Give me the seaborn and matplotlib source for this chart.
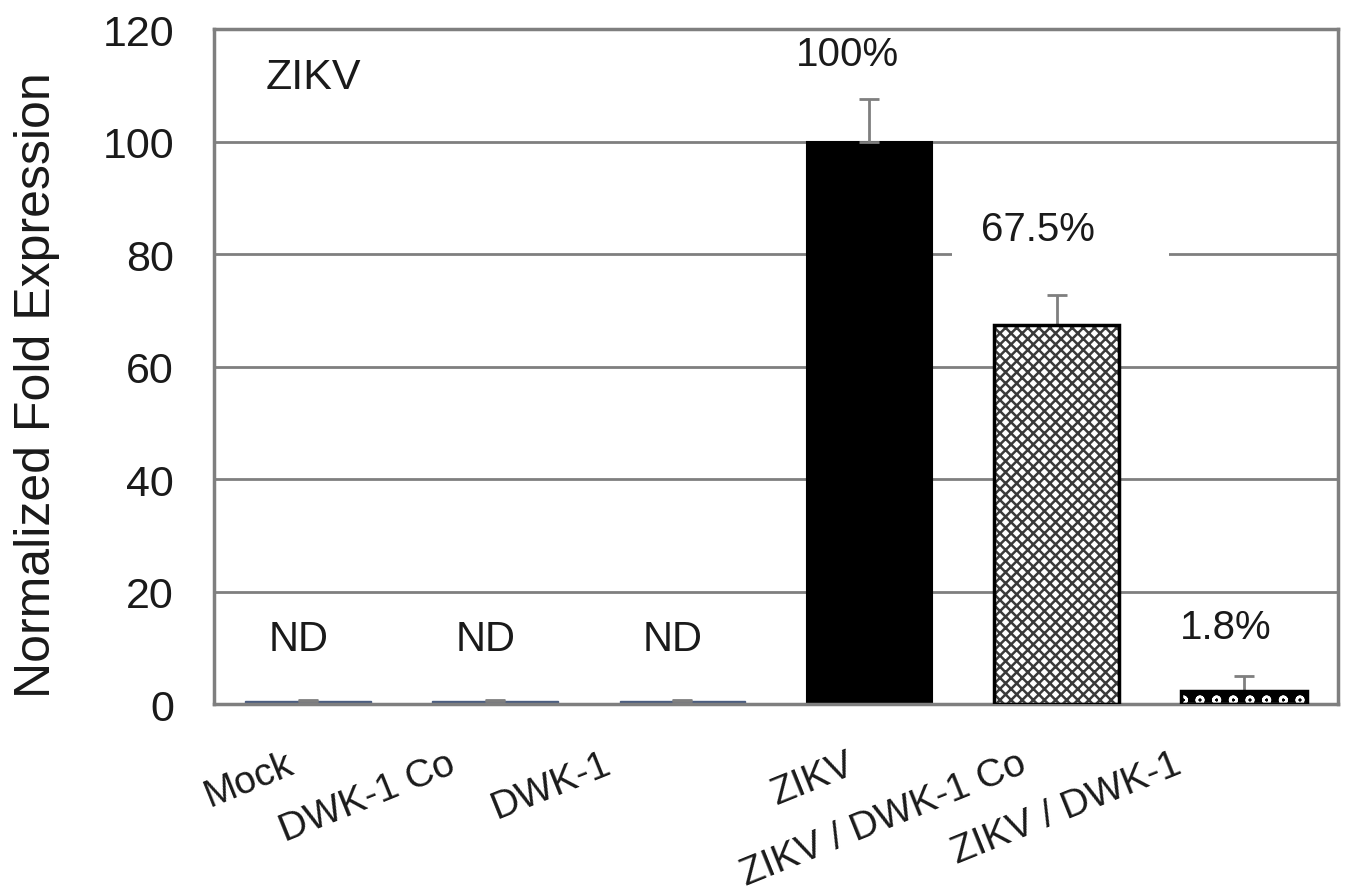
import matplotlib
matplotlib.use("Agg")
import matplotlib.pyplot as plt
import matplotlib.transforms as mtransforms
from matplotlib.patches import Rectangle
import seaborn as sns
import pandas as pd
import numpy as np

categories = ["Mock", "DWK-1 Co", "DWK-1", "ZIKV", "ZIKV / DWK-1 Co", "ZIKV / DWK-1"]
values = [0.5, 0.5, 0.5, 100.0, 67.5, 2.3]
errors = [0.2, 0.2, 0.2, 7.6, 5.3, 2.7]
annotations = ["ND", "ND", "ND", "100%", "67.5%", "1.8%"]
annot_y = [11.6, 11.6, 11.6, 115.6, 84.6, 13.7]
yticks = [0, 20, 40, 60, 80, 100, 120]

sns.set_theme(style="white")
plt.rcParams['font.family'] = ['Liberation Sans', 'DejaVu Sans']
plt.rcParams['hatch.linewidth'] = 1.8

fig = plt.figure(figsize=(13.47, 8.95), dpi=100)
ax = fig.add_axes([0.159, 0.212, 0.834, 0.754])

df = pd.DataFrame({"cat": categories, "val": values})
nd_col = "#4a5d80"
palette = [nd_col, nd_col, nd_col, "black", "white", "black"]
sns.barplot(data=df, x="cat", y="val", hue="cat", palette=palette, legend=False,
            width=0.67, errorbar=None, ax=ax, saturation=1)

bars = ax.patches[:len(categories)]
for i, b in enumerate(bars):
    if i < 3:
        b.set_edgecolor(nd_col)
        b.set_linewidth(1.0)
    elif i == 3:
        b.set_edgecolor("black")
        b.set_linewidth(1.5)
    elif i == 4:
        b.set_facecolor("white")
        b.set_edgecolor("#3a3a3a")
        b.set_hatch("xxx")
        b.set_linewidth(1.0)
    else:
        b.set_facecolor("black")
        b.set_edgecolor("white")
        b.set_hatch("o")
        b.set_linewidth(0)

for i in (4, 5):
    b = bars[i]
    ax.add_patch(Rectangle((b.get_x(), b.get_y()), b.get_width(), b.get_height(),
                           fill=False, edgecolor="black", linewidth=2.5, zorder=3))

x = np.arange(len(categories))
ax.errorbar(x, values, yerr=[np.zeros(len(errors)), errors], fmt="none",
            ecolor="#7f7f7f", elinewidth=2, capsize=7, capthick=2, zorder=1)

# white gap behind the 67.5% label (interrupts the gridline at 80)
ax.add_patch(Rectangle((3.44, 78.5), 1.16, 9.5, facecolor="white", edgecolor="none", zorder=0.9))

annot_dx = [-0.05, -0.05, -0.05, -0.12, -0.10, -0.10]
for xi, txt, yy, dx in zip(x, annotations, annot_y, annot_dx):
    ax.text(xi + dx, yy, txt, ha="center", va="center", fontsize=30 if txt == "ND" else 29,
            color="#1a1a1a", zorder=4)

ax.text(0.03, 111.5, "ZIKV", ha="center", va="center", fontsize=31, color="#1a1a1a")

ax.set_ylim(0, 120)
ax.set_xlim(-0.5, 5.5)
ax.set_yticks(yticks)
ax.set_yticklabels([str(t) for t in yticks], fontsize=31, color="#1a1a1a")
ax.tick_params(axis="y", length=0, pad=29)
ax.tick_params(axis="x", length=0, pad=0)
ax.yaxis.grid(True, color="#7f7f7f", linewidth=2)
ax.set_axisbelow(True)
for s in ax.spines.values():
    s.set_color("#7f7f7f")
    s.set_linewidth(2.5)

ax.set_xlabel("")
ax.set_ylabel("Normalized Fold Expression", fontsize=36, color="#1a1a1a")
ax.yaxis.set_label_coords(-0.137, 0.475)

label_dx = [-12, -38, -69, -13, -28, -61]
ax.set_xticks(x)
ax.set_xticklabels(categories, fontsize=28, color="#1a1a1a", rotation=22,
                   ha="right", va="baseline", rotation_mode="anchor")
for lbl, dx in zip(ax.get_xticklabels(), label_dx):
    lbl.set_transform(lbl.get_transform() + mtransforms.ScaledTranslation(dx / 100, -67 / 100, fig.dpi_scale_trans))

fig.savefig("out.png", dpi=100)
